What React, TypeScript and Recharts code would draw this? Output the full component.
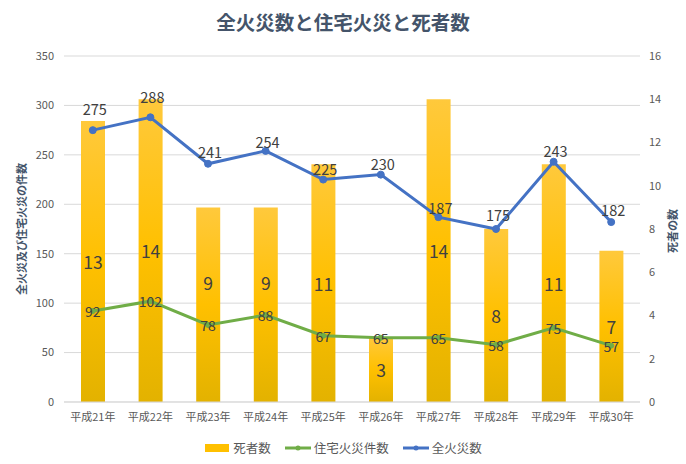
import { ComposedChart, Bar, Line, XAxis, YAxis, CartesianGrid, Legend, LabelList, Label } from "recharts";

const years = ["平成21年", "平成22年", "平成23年", "平成24年", "平成25年", "平成26年", "平成27年", "平成28年", "平成29年", "平成30年"];
const totalFires = [275, 288, 241, 254, 225, 230, 187, 175, 243, 182];
const houseFires = [92, 102, 78, 88, 67, 65, 65, 58, 75, 57];
const deaths = [13, 14, 9, 9, 11, 3, 14, 8, 11, 7];
const leftTicks = [0, 50, 100, 150, 200, 250, 300, 350];
const rightTicks = [0, 2, 4, 6, 8, 10, 12, 14, 16];

// label nudges, as placed in the original chart
const totalLabelLift = [22, 21, 12, 9, 11, 11, 10, 15, 11, 13];
const deathLabelLift = [0, 0, 22, 22, 0, 0, 0, 0, 0, 0];

const FONT = "'Noto Sans CJK JP', 'Noto Sans', sans-serif";
const BLUE = "#4472C4";
const GREEN = "#70AD47";
const GOLD = "#FFC000";
const LABEL = "#404040";
const TICK = "#595959";

const data = years.map((name, i) => ({
  name,
  total: totalFires[i],
  house: houseFires[i],
  deaths: deaths[i],
}));

const legendItems = [
  { name: "死者数", color: GOLD, kind: "bar" },
  { name: "住宅火災件数", color: GREEN, kind: "line" },
  { name: "全火災数", color: BLUE, kind: "line" },
];

function renderLegend() {
  return (
    <div style={{ display: "flex", justifyContent: "center", alignItems: "center", gap: 14, fontSize: 12.5, color: TICK, fontFamily: FONT }}>
      {legendItems.map((it) => (
        <div key={it.name} style={{ display: "flex", alignItems: "center", gap: 3 }}>
          <svg width={26} height={10}>
            {it.kind === "bar" ? (
              <rect x={1} y={1} width={24} height={8} fill={it.color} />
            ) : (
              <g>
                <line x1={0} y1={5} x2={26} y2={5} stroke={it.color} strokeWidth={3} />
                <circle cx={13} cy={5} r={2.5} fill={it.color} />
              </g>
            )}
          </svg>
          <span>{it.name}</span>
        </div>
      ))}
    </div>
  );
}

const totalLabel = (p: any) => (
  <text x={p.x + 2} y={p.y - totalLabelLift[p.index]} textAnchor="middle" dominantBaseline="central" fill={LABEL} fontSize={14.5} fontFamily={FONT}>
    {p.value}
  </text>
);

const houseLabel = (p: any) => (
  <text x={p.x} y={p.y} textAnchor="middle" dominantBaseline="central" fill={LABEL} fontSize={14} fontFamily={FONT}>
    {p.value}
  </text>
);

const deathLabel = (p: any) => (
  <text
    x={p.x + p.width / 2}
    y={p.y + p.height / 2 - deathLabelLift[p.index]}
    textAnchor="middle"
    dominantBaseline="central"
    fill={LABEL}
    fontSize={17.5}
    fontFamily={FONT}
  >
    {p.value}
  </text>
);

export default function App() {
  return (
    <div style={{ position: "absolute", left: 0, top: 0, width: 686, height: 464, background: "#fff", fontFamily: FONT }}>
      <div style={{ position: "absolute", top: 8, left: 0, width: 686, textAlign: "center", fontSize: 19.5, fontWeight: 700, color: "#44546A", lineHeight: "28px" }}>
        全火災数と住宅火災と死者数
      </div>
      <ComposedChart width={686} height={464} data={data} margin={{ top: 56, right: 0, left: 0, bottom: 0 }}>
        <defs>
          <linearGradient id="barGrad" x1="0" y1="0" x2="0" y2="1">
            <stop offset="0%" stopColor="#FFC93C" />
            <stop offset="50%" stopColor="#FFC000" />
            <stop offset="100%" stopColor="#E3B200" />
          </linearGradient>
        </defs>
        <CartesianGrid yAxisId="left" vertical={false} stroke="#D9D9D9" />
        <XAxis
          dataKey="name"
          axisLine={{ stroke: "#D9D9D9" }}
          tickLine={false}
          tickMargin={5}
          height={36}
          tick={{ fill: TICK, fontSize: 11, fontFamily: FONT }}
          interval={0}
        />
        <YAxis
          yAxisId="left"
          width={64}
          domain={[0, 350]}
          ticks={leftTicks}
          axisLine={false}
          tickLine={false}
          tickMargin={4}
          tick={{ fill: TICK, fontSize: 11, fontFamily: FONT }}
        >
          <Label value="全火災及び住宅火災の件数" angle={-90} position="center" dx={-10} fill="#44546A" fontSize={11} fontWeight={700} fontFamily={FONT} />
        </YAxis>
        <YAxis
          yAxisId="right"
          orientation="right"
          width={46}
          domain={[0, 16]}
          ticks={rightTicks}
          axisLine={false}
          tickLine={false}
          tickMargin={3}
          tick={{ fill: TICK, fontSize: 11, fontFamily: FONT, textAnchor: "start" }}
        >
          <Label value="死者の数" angle={-90} position="center" dx={10} dy={2} fill="#44546A" fontSize={11} fontWeight={700} fontFamily={FONT} />
        </YAxis>
        <Legend verticalAlign="bottom" height={26} content={renderLegend} />
        <Bar yAxisId="right" dataKey="deaths" name="死者数" fill="url(#barGrad)" barSize={24} isAnimationActive={false}>
          <LabelList dataKey="deaths" content={deathLabel} />
        </Bar>
        <Line
          yAxisId="left"
          dataKey="house"
          name="住宅火災件数"
          stroke={GREEN}
          strokeWidth={3}
          dot={{ r: 2.5, fill: GREEN, stroke: GREEN, strokeWidth: 1 }}
          isAnimationActive={false}
        >
          <LabelList dataKey="house" content={houseLabel} />
        </Line>
        <Line
          yAxisId="left"
          dataKey="total"
          name="全火災数"
          stroke={BLUE}
          strokeWidth={3}
          dot={{ r: 3.5, fill: BLUE, stroke: BLUE, strokeWidth: 1 }}
          isAnimationActive={false}
        >
          <LabelList dataKey="total" content={totalLabel} />
        </Line>
      </ComposedChart>
    </div>
  );
}
